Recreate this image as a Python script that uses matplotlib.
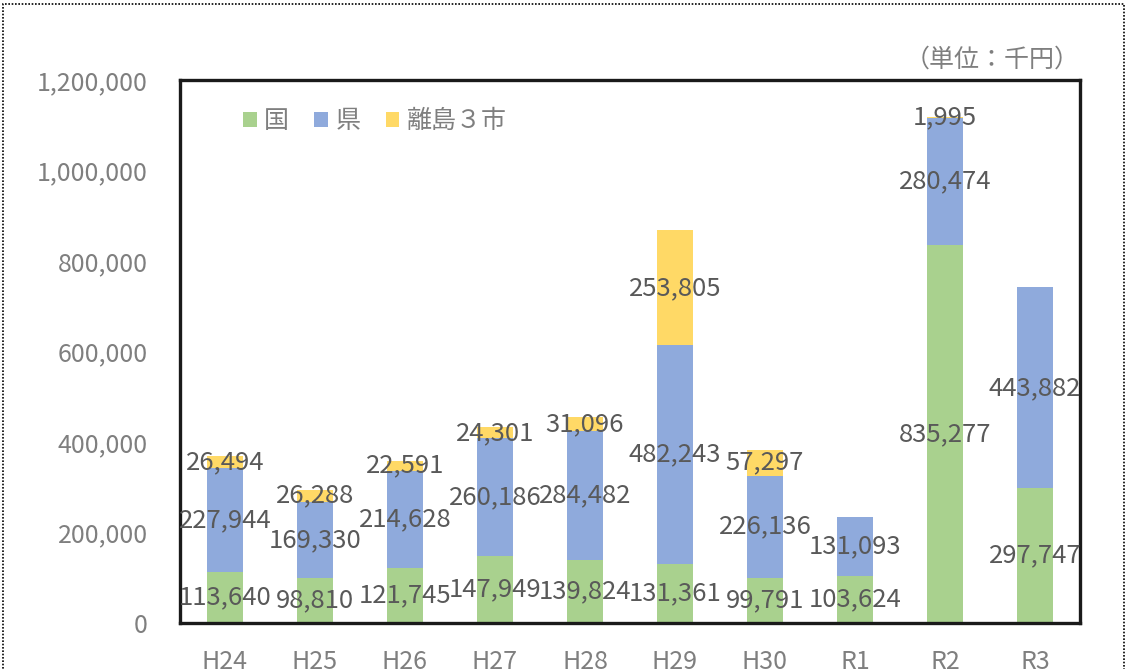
import matplotlib
matplotlib.use("Agg")
import matplotlib.pyplot as plt
from matplotlib.patches import Rectangle, Patch
import numpy as np

plt.rcParams['font.family'] = ['Noto Sans CJK JP', 'DejaVu Sans']

categories = ["H24", "H25", "H26", "H27", "H28", "H29", "H30", "R1", "R2", "R3"]
kuni = [113640, 98810, 121745, 147949, 139824, 131361, 99791, 103624, 835277, 297747]
ken = [227944, 169330, 214628, 260186, 284482, 482243, 226136, 131093, 280474, 443882]
ritou = [26494, 26288, 22591, 24301, 31096, 253805, 57297, 0, 1995, 0]
series_names = ["国", "県", "離島３市"]
yticks = [0, 200000, 400000, 600000, 800000, 1000000, 1200000]

colors = ["#A9D18E", "#8FAADC", "#FFD966"]
label_color = "#595959"
tick_color = "#7F7F7F"

fig = plt.figure(figsize=(11.32, 6.69), dpi=100)
ax = fig.add_axes([180/1132, 46/669, 900/1132, 543/669])

x = np.arange(len(categories))
bottom = np.zeros(len(categories))
for vals, col in zip([kuni, ken, ritou], colors):
    v = np.array(vals, dtype=float)
    ax.bar(x, v, bottom=bottom, width=0.4, color=col, zorder=2)
    for xi, b, h in zip(x, bottom, v):
        if h > 0:
            ax.text(xi, b + h / 2, f"{int(h):,}", ha="center", va="center",
                    fontsize=18.5, color=label_color, zorder=3, clip_on=True)
    bottom += v

ax.set_xlim(-0.5, len(categories) - 0.5)
ax.set_ylim(0, 1200000)
ax.set_xticks(x)
ax.set_xticklabels(categories)
ax.set_yticks(yticks)
ax.set_yticklabels([f"{t:,}" for t in yticks])
ax.tick_params(axis="both", length=0, labelsize=18, labelcolor=tick_color)
ax.tick_params(axis="y", pad=23)
ax.tick_params(axis="x", pad=19)
for s in ax.spines.values():
    s.set_linewidth(2.4)
    s.set_color("#1a1a1a")

handles = [Patch(facecolor=c, edgecolor="none") for c in colors]
leg = ax.legend(handles, series_names, loc="upper left", bbox_to_anchor=(0.045, 0.99),
                frameon=False, ncol=3, fontsize=18, handlelength=0.55, handleheight=0.55,
                handletextpad=0.3, columnspacing=1.0, labelcolor=tick_color)

fig.text(1080/1132, 1 - 60/669, "（単位：千円）", ha="right", va="center",
         fontsize=18, color=tick_color)

border = Rectangle((3/1132, -0.05), 1121/1132, 1.05 - 4/669, transform=fig.transFigure,
                   fill=False, linestyle=(0, (1, 1)), linewidth=1.2, edgecolor="black")
fig.patches.append(border)

fig.savefig("out.png", dpi=100)
